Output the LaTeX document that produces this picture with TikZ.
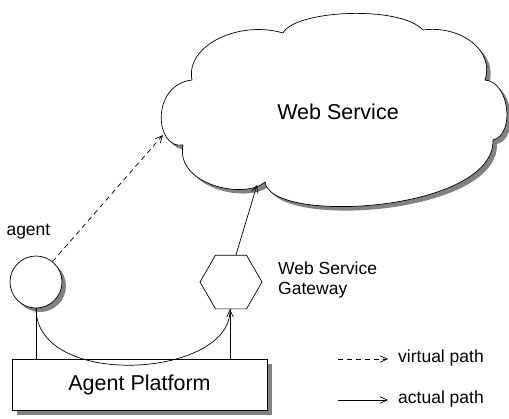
\documentclass[tikz,border=0pt]{standalone}
\usepackage{fontspec}
\setmainfont{Liberation Sans}
\usetikzlibrary{arrows.meta,shapes.geometric,calc}
\definecolor{shadowgray}{RGB}{130,130,130}
\tikzset{
  ln/.style={line width=0.7pt, draw=black},
  arr/.style={ln, -{Straight Barb[length=7pt,width=6.5pt]}},
  bigtxt/.style={font=\fontsize{21.5}{24}\selectfont},
  smalltxt/.style={font=\fontsize{17.5}{21}\selectfont},
  shad/.style={fill=shadowgray, draw=none},
}
\begin{document}
\begin{tikzpicture}[x=1pt,y=-1pt]
\useasboundingbox (0,0) rectangle (509,418);
% cloud shadow
\def\cloudpath{(183,145) .. controls (155,150) and (150,85) .. (192,80)
  .. controls (185,45) and (240,20) .. (283,33)
  .. controls (295,10) and (400,5) .. (423,30)
  .. controls (460,25) and (495,50) .. (485,80)
  .. controls (510,82) and (515,135) .. (493,140)
  .. controls (495,212) and (270,225) .. (265,182)
  .. controls (245,200) and (175,185) .. (183,145) -- cycle}
\fill[shad, shift={(4,4)}] \cloudpath;
\draw[ln, fill=white] \cloudpath;
\node[bigtxt] (ws) at (338,112) {Web Service};
\coordinate (wsL) at (163,135);
\coordinate (wsB) at (257,185);
% agent
\fill[shad] (40,286) circle (26);
\node[circle, ln, fill=white, minimum size=52pt, inner sep=0pt] (agent) at (36,282) {};
\node[smalltxt, anchor=west] (agentlbl) at (3,232) {agent};
% gateway
\node[regular polygon, regular polygon sides=6, ln, fill=white, minimum size=62pt, inner sep=0pt] (gw) at (231,282) {};
\node[smalltxt, anchor=north west, align=left, inner sep=0pt] (gwlbl) at (278,262) {Web Service\\[-1pt]Gateway};
% platform
\fill[shad] (17,364) rectangle (272,415);
\node[rectangle, ln, fill=white, minimum width=255pt, minimum height=51pt, inner sep=0pt, bigtxt] (plat) at (139.5,384.5) {Agent Platform};
% connectors
\draw[ln] (agent.south) -- (agent.south |- plat.north);
\draw[ln] ($(gw.south)+(-1,0)$) -- ($(gw.south |- plat.north)+(-1,0)$);
\draw[arr] (agent.south) .. controls +(0,81) and +(0,69) .. ($(gw.south)+(-1,0)$);
\draw[arr] ($(gw.north)+(5,0)$) -- (wsB);
\draw[arr, dashed, dash pattern=on 5pt off 4pt] (agent.51) -- (wsL);
% legend
\coordinate (v1) at (338,359);
\coordinate (v2) at (388,359);
\coordinate (a1) at (338,400);
\coordinate (a2) at (388,400);
\draw[arr, dashed, dash pattern=on 5pt off 4pt] (v1) -- (v2);
\draw[arr] (a1) -- (a2);
\node[smalltxt, anchor=west, inner sep=0pt] (vl) at (398,358) {virtual path};
\node[smalltxt, anchor=west, inner sep=0pt] (al) at (398,399) {actual path};
\end{tikzpicture}
\end{document}
